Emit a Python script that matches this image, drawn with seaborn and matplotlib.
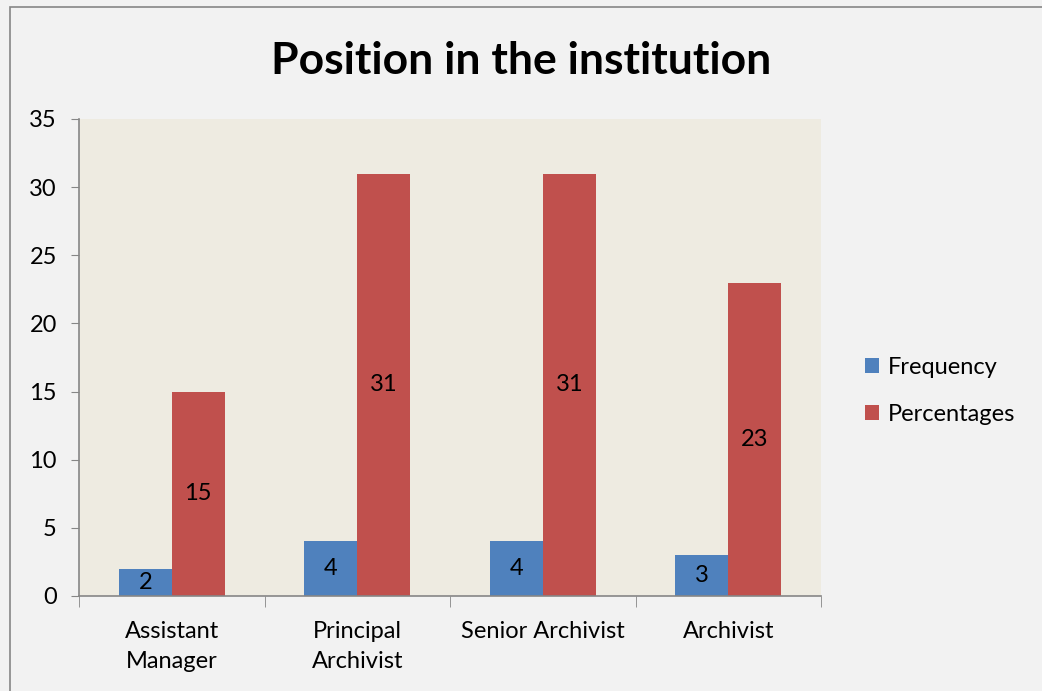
import matplotlib
matplotlib.use("Agg")
import matplotlib.pyplot as plt
from matplotlib.patches import Rectangle
import seaborn as sns
import pandas as pd

categories = ["Assistant\nManager", "Principal\nArchivist", "Senior Archivist", "Archivist"]
frequency = [2, 4, 4, 3]
percentages = [15, 31, 31, 23]
series_names = ["Frequency", "Percentages"]
colors = ["#4F81BD", "#C0504D"]

df = pd.DataFrame({
    "category": categories * 2,
    "value": frequency + percentages,
    "series": [series_names[0]] * 4 + [series_names[1]] * 4,
})

sns.set_style("white")
plt.rcParams["font.family"] = ["Lato", "DejaVu Sans"]
plt.rcParams["text.color"] = "black"

fig = plt.figure(figsize=(10.42, 6.91), dpi=100, facecolor="#F2F2F2")
ax = fig.add_axes([0.0758, 0.1375, 0.7122, 0.6903])
ax.set_facecolor("#EEEBE1")

sns.barplot(data=df, x="category", y="value", hue="series", palette=colors,
            width=0.57, saturation=1, ax=ax, linewidth=0)

for cont in ax.containers:
    ax.bar_label(cont, label_type="center", fontsize=17, color="black")

ax.set_ylim(0, 35)
ax.set_xlim(-0.5, 3.5)
ax.set_yticks(range(0, 36, 5))
ax.set_xlabel("")
ax.set_ylabel("")
ax.tick_params(axis="y", labelsize=17, length=6, color="#868686", direction="out",
               left=True, pad=10, labelcolor="black")
ax.tick_params(axis="x", labelsize=17, length=0, pad=18, labelcolor="black")
for lbl in ax.get_xticklabels():
    lbl.set_linespacing(1.55)
ax.set_xticks([-0.5, 0.5, 1.5, 2.5, 3.5], minor=True)
ax.tick_params(axis="x", which="minor", length=8, color="#868686", bottom=True)
for s in ["top", "right"]:
    ax.spines[s].set_visible(False)
for s in ["left", "bottom"]:
    ax.spines[s].set_color("#868686")
    ax.spines[s].set_linewidth(1.2)

ax.legend(loc="center left", bbox_to_anchor=(1.03, 0.43), frameon=False, fontsize=17,
          handlelength=0.6, handleheight=0.6, handletextpad=0.4, labelspacing=1.1,
          labelcolor="black")

fig.suptitle("Position in the institution", fontsize=32, fontweight="bold", y=0.94, x=0.5,
             color="black")

fig.patches.append(Rectangle((10 / 1042, -0.1), 1.2, 0.99 + 0.1, transform=fig.transFigure,
                             fill=False, edgecolor="#868686", linewidth=1.2))

fig.savefig("out.png", dpi=100, facecolor=fig.get_facecolor())
